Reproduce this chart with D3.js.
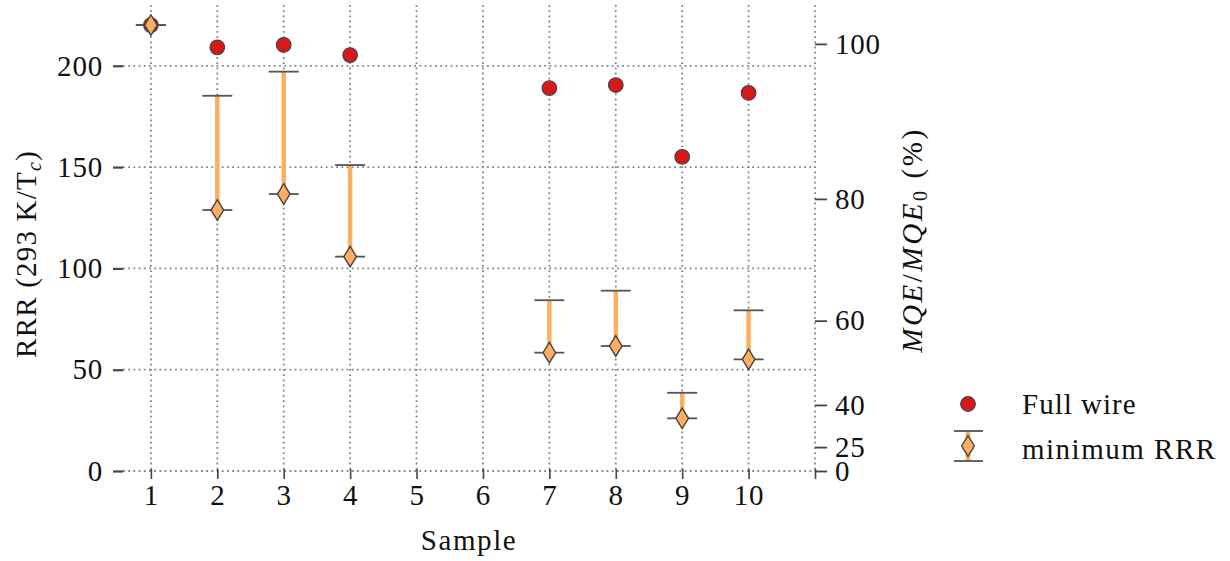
<!DOCTYPE html>
<html>
<head>
<meta charset="utf-8">
<script src="https://cdn.jsdelivr.net/npm/d3@7"></script>
<style>
  html, body { margin: 0; padding: 0; background: #fff; }
  text { font-family: "Liberation Serif", "DejaVu Serif", serif; fill: #111; }
</style>
</head>
<body>
<svg id="chart" width="1230" height="561"></svg>
<script>
// ---- data ----
const samples      = [1, 2, 3, 4, 7, 8, 9, 10];
const fullWire     = [220.1, 209.1, 210.3, 205.3, 189.0, 190.5, 155.0, 186.6];
const minRRR       = [220.1, 128.8, 136.7, 105.8, 58.4, 61.7, 26.0, 55.1];
const minRRRUpper  = [220.1, 185.2, 197.1, 151.0, 84.3, 89.0, 38.6, 79.3];

const xTicks       = [1, 2, 3, 4, 5, 6, 7, 8, 9, 10, 11];
const xTickLabels  = ["1", "2", "3", "4", "5", "6", "7", "8", "9", "10", ""];
const yTicks       = [0, 50, 100, 150, 200];
// right axis: MQE/MQE0 labels and the RRR level at which each is placed
const mqeTickLabels = ["0", "25", "40", "60", "80", "100"];
const mqeTickAtRRR  = [0, 11.8, 32.6, 74.2, 134.3, 210.8];

const legendLabels = ["Full wire", "minimum RRR"];

// ---- layout ----
const svg = d3.select("#chart");
const pL = 123, pR = 815, pT = 5, pB = 471;
const x = d3.scaleLinear().domain([0.58, 11]).range([pL, pR]);
const y = d3.scaleLinear().domain([0, 230]).range([pB, pT]);

const gridColor = "#858585";
const tickColor = "#444";
const FS = 29;

// grid
const grid = svg.append("g");
grid.selectAll("line.gx").data(xTicks).join("line")
  .attr("x1", d => x(d)).attr("x2", d => x(d))
  .attr("y1", pT).attr("y2", pB)
  .attr("stroke", gridColor).attr("stroke-width", 1.8)
  .attr("stroke-dasharray", "1.8,3.4");
grid.selectAll("line.gy").data(yTicks).join("line")
  .attr("x1", pL).attr("x2", pR)
  .attr("y1", d => y(d)).attr("y2", d => y(d))
  .attr("stroke", gridColor).attr("stroke-width", 1.8)
  .attr("stroke-dasharray", "1.8,3.4");

function styleTickText(sel) {
  sel.attr("font-size", FS).attr("font-family", "Liberation Serif")
     .attr("fill", "#111").attr("letter-spacing", 0.8);
}

// left axis
const yAxis = d3.axisLeft(y).tickValues(yTicks).tickSize(10).tickPadding(10);
const gy = svg.append("g").attr("transform", `translate(${pL},0)`).call(yAxis);
gy.select(".domain").remove();
gy.selectAll(".tick line").attr("stroke", tickColor).attr("stroke-width", 2.2);
styleTickText(gy.selectAll(".tick text"));

// bottom axis
const xAxis = d3.axisBottom(x).tickValues(xTicks).tickFormat((d, i) => xTickLabels[i]).tickSize(8).tickPadding(5);
const gx = svg.append("g").attr("transform", `translate(0,${pB})`).call(xAxis);
gx.select(".domain").remove();
gx.selectAll(".tick line").attr("stroke", tickColor).attr("stroke-width", 1.6).attr("y1", -2);
styleTickText(gx.selectAll(".tick text"));

// right axis (MQE/MQE0)
const yR = d3.scaleLinear().domain([0, 230]).range([pB, pT]);
const rAxis = d3.axisRight(yR).tickValues(mqeTickAtRRR).tickFormat((d, i) => mqeTickLabels[i]).tickSize(12).tickPadding(8);
const gr = svg.append("g").attr("transform", `translate(${pR},0)`).call(rAxis);
gr.select(".domain").remove();
gr.selectAll(".tick line").attr("stroke", tickColor).attr("stroke-width", 1.8);
styleTickText(gr.selectAll(".tick text"));

// axis labels
svg.append("text").attr("x", (pL + pR) / 2).attr("y", 550).attr("text-anchor", "middle")
  .attr("font-size", FS).attr("letter-spacing", 1.6).text("Sample");

const yl = svg.append("text").attr("transform", "translate(36,254) rotate(-90)")
  .attr("text-anchor", "middle").attr("font-size", FS).attr("letter-spacing", 1.2);
yl.append("tspan").text("RRR (293 K/T");
yl.append("tspan").attr("font-style", "italic").attr("font-size", 20).attr("dy", 5).text("c");
yl.append("tspan").attr("dy", -5).text(")");

const rl = svg.append("text").attr("transform", "translate(922,240) rotate(-90)")
  .attr("text-anchor", "middle").attr("font-size", FS).attr("letter-spacing", 2.6);
rl.append("tspan").attr("font-style", "italic").text("MQE");
rl.append("tspan").text("/");
rl.append("tspan").attr("font-style", "italic").text("MQE");
rl.append("tspan").attr("font-size", 20).attr("dy", 5).text("0");
rl.append("tspan").attr("dy", -5).text(" (%)");

// ---- marks ----
const red = "#d7191c", orange = "#fdae61", edge = "#444";
const data = samples.map((s, i) => ({ s, full: fullWire[i], min: minRRR[i], up: minRRRUpper[i] }));

// full wire circles
svg.append("g").selectAll("circle").data(data).join("circle")
  .attr("cx", d => x(d.s)).attr("cy", d => y(d.full)).attr("r", 7.3)
  .attr("fill", red).attr("stroke", edge).attr("stroke-width", 1.2);

// error bars
const eb = svg.append("g");
eb.selectAll("line.bar").data(data).join("line")
  .attr("x1", d => x(d.s)).attr("x2", d => x(d.s))
  .attr("y1", d => y(d.min)).attr("y2", d => y(d.up))
  .attr("stroke", orange).attr("stroke-width", 4.5);
const capW = 15;
eb.selectAll("line.capU").data(data).join("line")
  .attr("x1", d => x(d.s) - capW).attr("x2", d => x(d.s) + capW)
  .attr("y1", d => y(d.up)).attr("y2", d => y(d.up))
  .attr("stroke", "#555").attr("stroke-width", 1.8);
eb.selectAll("line.capL").data(data).join("line")
  .attr("x1", d => x(d.s) - capW).attr("x2", d => x(d.s) + capW)
  .attr("y1", d => y(d.min)).attr("y2", d => y(d.min))
  .attr("stroke", "#555").attr("stroke-width", 1.8);

// thin diamonds
const dW = 6.3, dH = 10.3;
const diamond = `M0,${-dH}L${dW},0L0,${dH}L${-dW},0Z`;
svg.append("g").selectAll("path").data(data).join("path")
  .attr("transform", d => `translate(${x(d.s)},${y(d.min)})`)
  .attr("d", diamond)
  .attr("fill", orange).attr("stroke", edge).attr("stroke-width", 1.4);

// ---- legend ----
const lg = svg.append("g");
lg.append("circle").attr("cx", 968).attr("cy", 404).attr("r", 7.3)
  .attr("fill", red).attr("stroke", edge).attr("stroke-width", 1.2);
lg.append("text").attr("x", 1022).attr("y", 404).attr("dy", "0.33em")
  .attr("font-size", FS).attr("letter-spacing", 1.0).text(legendLabels[0]);
lg.append("line").attr("x1", 968).attr("x2", 968).attr("y1", 431).attr("y2", 461)
  .attr("stroke", orange).attr("stroke-width", 4.5);
lg.append("line").attr("x1", 954).attr("x2", 983).attr("y1", 431).attr("y2", 431)
  .attr("stroke", "#555").attr("stroke-width", 1.8);
lg.append("line").attr("x1", 954).attr("x2", 983).attr("y1", 461).attr("y2", 461)
  .attr("stroke", "#555").attr("stroke-width", 1.8);
lg.append("path").attr("transform", "translate(968,446)").attr("d", diamond)
  .attr("fill", orange).attr("stroke", edge).attr("stroke-width", 1.4);
lg.append("text").attr("x", 1022).attr("y", 449).attr("dy", "0.33em")
  .attr("font-size", FS).attr("letter-spacing", 1.5).text(legendLabels[1]);
</script>
</body>
</html>
